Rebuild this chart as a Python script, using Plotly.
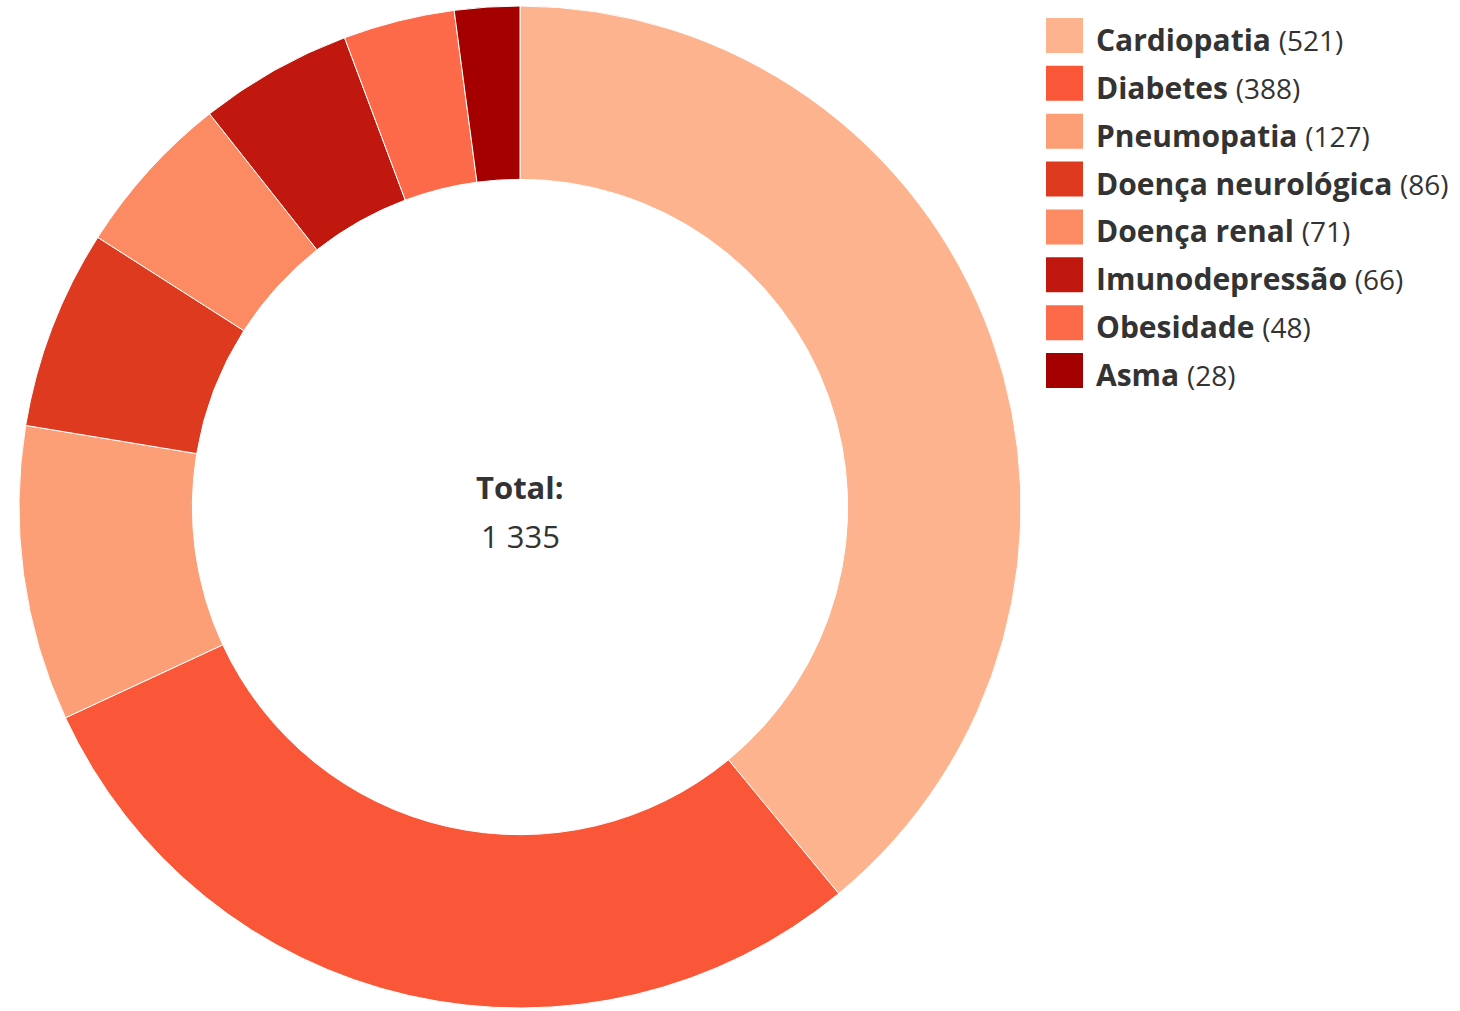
import plotly.graph_objects as go

W, H = 1460, 1011

labels = ['Cardiopatia', 'Diabetes', 'Pneumopatia', 'Doença neurológica',
          'Doença renal', 'Imunodepressão', 'Obesidade', 'Asma']
counts = [521, 388, 127, 86, 71, 66, 48, 28]
colors = ['#FDB48E', '#F95738', '#FC9E76', '#DE3A20',
          '#FC8A62', '#C0180F', '#FC6A4A', '#A50000']

total = sum(counts)
font = 'Open Sans'
txt_color = '#333333'

fig = go.Figure(go.Pie(
    labels=labels,
    values=counts,
    sort=False,
    direction='clockwise',
    hole=0.654,
    marker=dict(colors=colors, line=dict(color='white', width=1)),
    textinfo='none',
    showlegend=False,
    domain=dict(x=[19 / W, 1021 / W], y=[1 - 1008 / H, 1 - 6 / H]),
))

# custom legend: big squares + bold name and count
row0, step = 35.5, 47.86
for i, (lab, n, c) in enumerate(zip(labels, counts, colors)):
    yc = row0 + i * step
    fig.add_shape(type='rect', xref='paper', yref='paper',
                  x0=1046 / W, x1=1083 / W,
                  y0=1 - (yc - 17.5) / H, y1=1 - (yc + 17.5) / H,
                  fillcolor=c, line=dict(width=0))
    fig.add_annotation(xref='paper', yref='paper', x=1094 / W, y=1 - (yc + 4) / H,
                       xanchor='left', yanchor='middle', showarrow=False,
                       text=f"<b>{lab}</b> <span style='font-size:28px'>({n})</span>",
                       font=dict(family=font, size=30, color=txt_color))

# total in the middle of the donut
total_str = f'{total:,}'.replace(',', ' ')
fig.add_annotation(xref='paper', yref='paper', x=520 / W, y=1 - 487 / H,
                   showarrow=False, text='<b>Total:</b>',
                   font=dict(family=font, size=31, color=txt_color))
fig.add_annotation(xref='paper', yref='paper', x=520 / W, y=1 - 536 / H,
                   showarrow=False, text=total_str,
                   font=dict(family=font, size=31, color=txt_color))

fig.update_layout(
    width=W, height=H,
    margin=dict(l=0, r=0, t=0, b=0),
    paper_bgcolor='white',
    plot_bgcolor='white',
    font=dict(family=font),
)

fig.write_html("out.html", config={'displayModeBar': False},
               post_script="document.body.style.margin='0';")
